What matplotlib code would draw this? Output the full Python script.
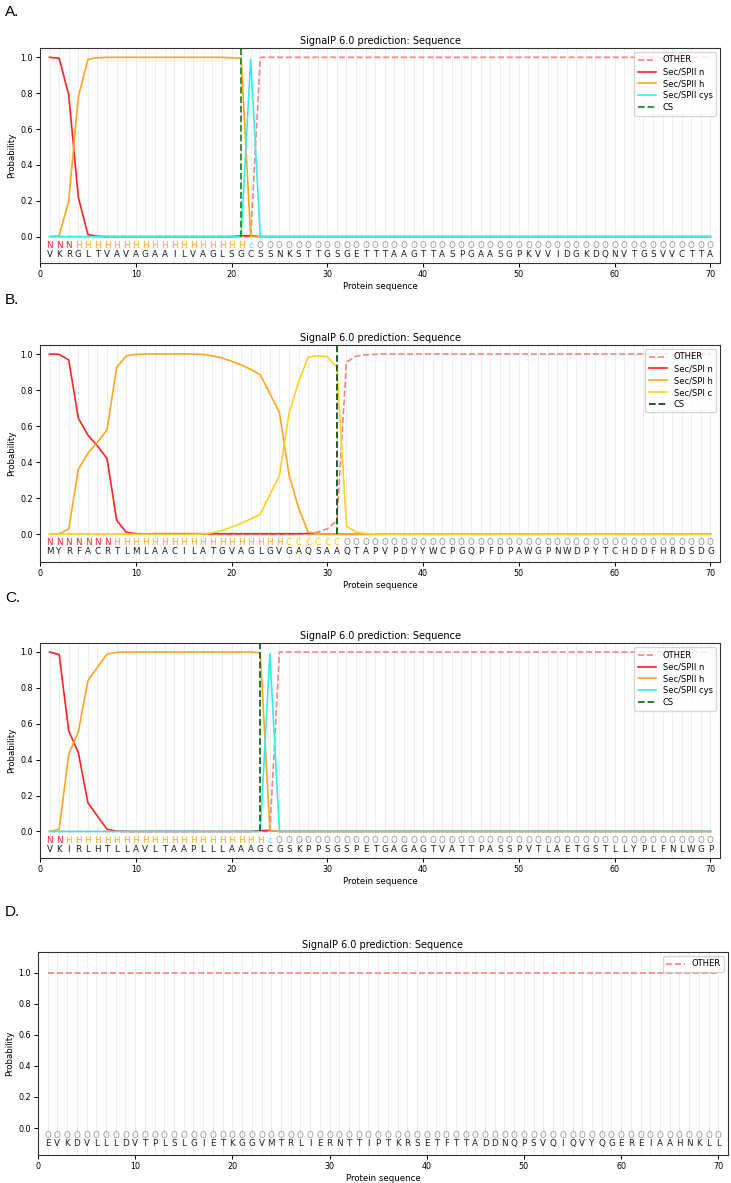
import matplotlib
matplotlib.use("Agg")
import matplotlib.pyplot as plt
import numpy as np

plt.rcParams["font.family"] = ["DejaVu Sans"]

positions = list(range(1, 71))

# ---- A: Sec/SPII (lipoprotein) ----
seq_a = "VKRGLTVAVAGAAILVAGLSGCSSNKSTTGSGETTTAAGTTASPGAASGPKVVIDGKDQNVTGSVVCTTA"
lab_a = "NNNHHHHHHHHHHHHHHHHHHcOOOOOOOOOOOOOOOOOOOOOOOOOOOOOOOOOOOOOOOOOOOOOOOO"
other_a = [0, 0, 0, 0, 0, 0, 0, 0, 0, 0,
           0, 0, 0, 0, 0, 0, 0, 0, 0, 0,
           0, 0, 1, 1, 1, 1, 1, 1, 1, 1,
           1, 1, 1, 1, 1, 1, 1, 1, 1, 1,
           1, 1, 1, 1, 1, 1, 1, 1, 1, 1,
           1, 1, 1, 1, 1, 1, 1, 1, 1, 1,
           1, 1, 1, 1, 1, 1, 1, 1, 1, 1]
n_a = [1.0, 0.995, 0.79, 0.22, 0.012, 0.002, 0, 0, 0, 0,
       0, 0, 0, 0, 0, 0, 0, 0, 0, 0,
       0.005, 0.005, 0, 0, 0, 0, 0, 0, 0, 0,
       0, 0, 0, 0, 0, 0, 0, 0, 0, 0,
       0, 0, 0, 0, 0, 0, 0, 0, 0, 0,
       0, 0, 0, 0, 0, 0, 0, 0, 0, 0,
       0, 0, 0, 0, 0, 0, 0, 0, 0, 0]
h_a = [0.0, 0.005, 0.2, 0.78, 0.988, 0.998, 1, 1, 1, 1,
       1, 1, 1, 1, 1, 1, 1, 1, 1, 0.998,
       0.995, 0, 0, 0, 0, 0, 0, 0, 0, 0,
       0, 0, 0, 0, 0, 0, 0, 0, 0, 0,
       0, 0, 0, 0, 0, 0, 0, 0, 0, 0,
       0, 0, 0, 0, 0, 0, 0, 0, 0, 0,
       0, 0, 0, 0, 0, 0, 0, 0, 0, 0]
cys_a = [0, 0, 0, 0, 0, 0, 0, 0, 0, 0,
         0, 0, 0, 0, 0, 0, 0, 0, 0, 0,
         0, 0.99, 0, 0, 0, 0, 0, 0, 0, 0,
         0, 0, 0, 0, 0, 0, 0, 0, 0, 0,
         0, 0, 0, 0, 0, 0, 0, 0, 0, 0,
         0, 0, 0, 0, 0, 0, 0, 0, 0, 0,
         0, 0, 0, 0, 0, 0, 0, 0, 0, 0]
cs_a = 21

# ---- B: Sec/SPI ----
seq_b = "MYRFACRTLMLAACILATGVAGLGVGAQSAAQTAPVPDYYWCPGQPFDPAWGPNWDPYTCHDDFHRDSDG"
lab_b = "NNNNNNNHHHHHHHHHHHHHHHHHHCCCCCCOOOOOOOOOOOOOOOOOOOOOOOOOOOOOOOOOOOOOOO"
other_b = [0, 0, 0, 0, 0, 0, 0, 0, 0, 0,
           0, 0, 0, 0, 0, 0, 0, 0, 0, 0,
           0, 0, 0, 0, 0, 0, 0.002, 0.005, 0.012, 0.03,
           0.075, 0.955, 0.988, 0.996, 0.998, 1, 1, 1, 1, 1,
           1, 1, 1, 1, 1, 1, 1, 1, 1, 1,
           1, 1, 1, 1, 1, 1, 1, 1, 1, 1,
           1, 1, 1, 1, 1, 1, 1, 1, 1, 1]
n_b = [1.0, 0.998, 0.967, 0.644, 0.55, 0.49, 0.42, 0.078, 0.011, 0.003,
       0.002, 0.003, 0.003, 0.003, 0.003, 0.003, 0.003, 0.003, 0.003, 0.003,
       0.003, 0.003, 0.003, 0.003, 0.003, 0.003, 0.003, 0.003, 0.003, 0.002,
       0, 0, 0, 0, 0, 0, 0, 0, 0, 0,
       0, 0, 0, 0, 0, 0, 0, 0, 0, 0,
       0, 0, 0, 0, 0, 0, 0, 0, 0, 0,
       0, 0, 0, 0, 0, 0, 0, 0, 0, 0]
h_b = [0.0, 0.002, 0.03, 0.36, 0.45, 0.51, 0.58, 0.925, 0.99, 0.998,
       1, 1, 1, 1, 1, 1, 0.998, 0.99, 0.978, 0.96,
       0.94, 0.915, 0.885, 0.78, 0.675, 0.33, 0.145, 0.012, 0.004, 0.001,
       0, 0, 0, 0, 0, 0, 0, 0, 0, 0,
       0, 0, 0, 0, 0, 0, 0, 0, 0, 0,
       0, 0, 0, 0, 0, 0, 0, 0, 0, 0,
       0, 0, 0, 0, 0, 0, 0, 0, 0, 0]
c_b = [0, 0, 0, 0, 0, 0, 0, 0, 0, 0,
       0, 0, 0, 0, 0, 0, 0.002, 0.008, 0.02, 0.04,
       0.06, 0.085, 0.111, 0.22, 0.326, 0.67, 0.846, 0.983, 0.99, 0.985,
       0.925, 0.045, 0.012, 0.004, 0.001, 0, 0, 0, 0, 0,
       0, 0, 0, 0, 0, 0, 0, 0, 0, 0,
       0, 0, 0, 0, 0, 0, 0, 0, 0, 0,
       0, 0, 0, 0, 0, 0, 0, 0, 0, 0]
cs_b = 31

# ---- C: Sec/SPII (lipoprotein) ----
seq_c = "VKIRLHTLLAVLTAAPLLLAAAGCGSKPPSGSPETGAGAGTVATTPASSPVTLAETGSTLLYPLFNLWGP"
lab_c = "NNHHHHHHHHHHHHHHHHHHHHHcOOOOOOOOOOOOOOOOOOOOOOOOOOOOOOOOOOOOOOOOOOOOOO"
other_c = [0, 0, 0, 0, 0, 0, 0, 0, 0, 0,
           0, 0, 0, 0, 0, 0, 0, 0, 0, 0,
           0, 0, 0, 0, 1, 1, 1, 1, 1, 1,
           1, 1, 1, 1, 1, 1, 1, 1, 1, 1,
           1, 1, 1, 1, 1, 1, 1, 1, 1, 1,
           1, 1, 1, 1, 1, 1, 1, 1, 1, 1,
           1, 1, 1, 1, 1, 1, 1, 1, 1, 1]
n_c = [1.0, 0.985, 0.56, 0.44, 0.16, 0.085, 0.012, 0.002, 0, 0,
       0, 0, 0, 0, 0, 0, 0, 0, 0, 0,
       0, 0, 0.005, 0.005, 0, 0, 0, 0, 0, 0,
       0, 0, 0, 0, 0, 0, 0, 0, 0, 0,
       0, 0, 0, 0, 0, 0, 0, 0, 0, 0,
       0, 0, 0, 0, 0, 0, 0, 0, 0, 0,
       0, 0, 0, 0, 0, 0, 0, 0, 0, 0]
h_c = [0.0, 0.012, 0.43, 0.555, 0.84, 0.915, 0.988, 0.998, 1, 1,
       1, 1, 1, 1, 1, 1, 1, 1, 1, 1,
       1, 1, 0.995, 0.005, 0, 0, 0, 0, 0, 0,
       0, 0, 0, 0, 0, 0, 0, 0, 0, 0,
       0, 0, 0, 0, 0, 0, 0, 0, 0, 0,
       0, 0, 0, 0, 0, 0, 0, 0, 0, 0,
       0, 0, 0, 0, 0, 0, 0, 0, 0, 0]
cys_c = [0, 0, 0, 0, 0, 0, 0, 0, 0, 0,
         0, 0, 0, 0, 0, 0, 0, 0, 0, 0,
         0, 0, 0, 0.99, 0, 0, 0, 0, 0, 0,
         0, 0, 0, 0, 0, 0, 0, 0, 0, 0,
         0, 0, 0, 0, 0, 0, 0, 0, 0, 0,
         0, 0, 0, 0, 0, 0, 0, 0, 0, 0,
         0, 0, 0, 0, 0, 0, 0, 0, 0, 0]
cs_c = 23

# ---- D: no signal peptide ----
seq_d = "EVKDVLLLDVTPLSLGIETKGGVMTRLIERNTTIPTKRSETFTTADDNQPSVQIQVYQGEREIAAHNKLL"
lab_d = "OOOOOOOOOOOOOOOOOOOOOOOOOOOOOOOOOOOOOOOOOOOOOOOOOOOOOOOOOOOOOOOOOOOOOO"
other_d = [1, 1, 1, 1, 1, 1, 1, 1, 1, 1,
           1, 1, 1, 1, 1, 1, 1, 1, 1, 1,
           1, 1, 1, 1, 1, 1, 1, 1, 1, 1,
           1, 1, 1, 1, 1, 1, 1, 1, 1, 1,
           1, 1, 1, 1, 1, 1, 1, 1, 1, 1,
           1, 1, 1, 1, 1, 1, 1, 1, 1, 1,
           1, 1, 1, 1, 1, 1, 1, 1, 1, 1]

COL_OTHER = "#f28585"
COL_N = "#ff2222"
COL_H = "#ffa520"
COL_CYS = "#2ff0f0"
COL_C = "#ffd21f"
LAB_COL = {"N": "#ff2222", "H": "#ffa520", "c": "#2ff0f0", "C": "#ffcc00", "O": "#9a9a9a"}

W, H = 731, 1183
fig = plt.figure(figsize=(W / 100, H / 100), dpi=100)


def add_ax(left, right, top, bottom):
    return fig.add_axes([left / W, 1 - bottom / H, (right - left) / W, (bottom - top) / H])


def panel(ax, seq, lab, curves, cs, cs_col, ylim, letter, letter_y):
    x = np.array(positions)
    for p in positions:
        ax.axvline(p, color="#ebebeb", lw=0.6, zorder=0)
    for name, vals, col, ls in curves:
        ax.plot(x, vals, color=col, ls=ls, lw=1.2, label=name)
    if cs is not None:
        # cleavage site marker only spans the probability range, not the letter rows
        ax.vlines(cs, 0, ylim[1], color=cs_col, linestyles="--", lw=1.3, label="CS")
    for p, aa, lb in zip(positions, seq, lab):
        ax.text(p, -0.048, lb, color=LAB_COL[lb], ha="center", va="center", fontsize=6.3)
        ax.text(p, -0.098, aa, color="#222222", ha="center", va="center", fontsize=6.3)
    ax.set_xlim(0, 71)
    ax.set_ylim(*ylim)
    ax.set_xticks([0, 10, 20, 30, 40, 50, 60, 70])
    ax.set_yticks([0.0, 0.2, 0.4, 0.6, 0.8, 1.0])
    ax.tick_params(labelsize=5.8, length=3, width=0.7, pad=2)
    for s in ax.spines.values():
        s.set_color("#333333"); s.set_linewidth(0.8)
    ax.set_title("SignalP 6.0 prediction: Sequence", fontsize=7, pad=3)
    ax.set_xlabel("Protein sequence", fontsize=6.2, labelpad=2)
    ax.set_ylabel("Probability", fontsize=6.2, labelpad=3)
    ax.legend(loc="upper right", fontsize=6, handlelength=2.2, borderpad=0.4,
              labelspacing=0.35, edgecolor="#cccccc")
    fig.text(5 / W, 1 - letter_y / H, letter, fontsize=11, ha="left", va="center",
             family=["Liberation Sans", "DejaVu Sans"])


ax_a = add_ax(40, 720, 48, 263)
panel(ax_a, seq_a, lab_a,
      [("OTHER", other_a, COL_OTHER, "--"), ("Sec/SPII n", n_a, COL_N, "-"),
       ("Sec/SPII h", h_a, COL_H, "-"), ("Sec/SPII cys", cys_a, COL_CYS, "-")],
      cs_a, "#2a8a2a", (-0.147, 1.052), "A.", 12)

ax_b = add_ax(40, 720, 345, 562)
panel(ax_b, seq_b, lab_b,
      [("OTHER", other_b, COL_OTHER, "--"), ("Sec/SPI n", n_b, COL_N, "-"),
       ("Sec/SPI h", h_b, COL_H, "-"), ("Sec/SPI c", c_b, COL_C, "-")],
      cs_b, "#11501a", (-0.154, 1.05), "B.", 300)

ax_c = add_ax(40, 720, 643, 858)
panel(ax_c, seq_c, lab_c,
      [("OTHER", other_c, COL_OTHER, "--"), ("Sec/SPII n", n_c, COL_N, "-"),
       ("Sec/SPII h", h_c, COL_H, "-"), ("Sec/SPII cys", cys_c, COL_CYS, "-")],
      cs_c, "#1a6a1a", (-0.148, 1.05), "C.", 598)

ax_d = add_ax(38, 728, 952, 1155)
panel(ax_d, seq_d, lab_d, [("OTHER", other_d, COL_OTHER, "--")],
      None, None, (-0.174, 1.135), "D.", 912)

fig.savefig("out.png", dpi=100)
